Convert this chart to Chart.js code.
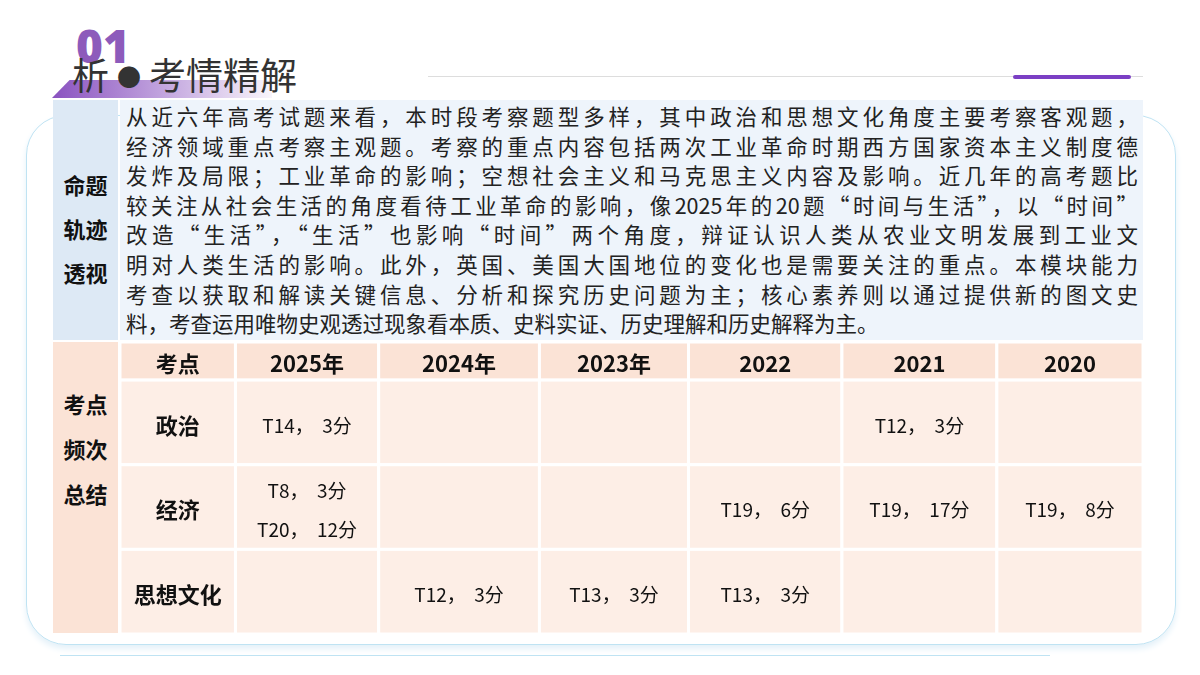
<!DOCTYPE html><html><head><meta charset="utf-8">
<script src="https://cdn.jsdelivr.net/npm/chart.js@4/dist/chart.umd.min.js"></script>
<style>
body{margin:0;width:1200px;height:675px;background:#fff;position:relative;overflow:hidden;font-family:"Noto Sans CJK SC",sans-serif}
.abs{position:absolute}
.para div{text-align:justify;text-align-last:justify;height:29.6px;line-height:29.6px;font-size:21.5px;color:#222;letter-spacing:0}
.lbl{font-weight:bold;font-size:22px;color:#111;text-align:center;line-height:40px}
</style></head><body>
<div class="abs" style="left:26px;top:115px;width:1148px;height:528px;border:1.5px solid #bfe3f3;border-radius:40px;box-shadow:0 4px 6px #e4f1f9"></div>
<div class="abs" style="left:76px;top:14px;font-size:46px;font-weight:900;color:#7a3fb0;font-family:'Noto Sans',sans-serif;opacity:.85">01</div>
<div class="abs" style="left:52px;top:80px;width:220px;height:18px;background:linear-gradient(90deg,#8a52c0,rgba(190,160,220,0.1));clip-path:polygon(8% 0,100% 0,100% 100%,0 100%)"></div>
<div class="abs" style="left:72px;top:50px;font-size:37px;color:#333;line-height:48px">析<span style="font-size:24px;vertical-align:4px;margin:0 8px">●</span>考情精解</div>
<div class="abs" style="left:428px;top:76px;width:715px;height:1px;background:#ddd"></div>
<div class="abs" style="left:1013px;top:75px;width:118px;height:4px;background:#7b3fc4;border-radius:2px"></div>
<div class="abs" style="left:53px;top:100px;width:65px;height:240px;background:#dde9f5"></div>
<div class="abs lbl" style="left:53px;top:162px;width:65px;line-height:44px">命题<br>轨迹<br>透视</div>
<div class="abs" style="left:120px;top:100px;width:1023px;height:240px;background:#eef4fb"></div>
<div class="abs para" style="left:126px;top:101px;width:1012px">
<div>从近六年高考试题来看，本时段考察题型多样，其中政治和思想文化角度主要考察客观题，</div>
<div>经济领域重点考察主观题。考察的重点内容包括两次工业革命时期西方国家资本主义制度德</div>
<div>发炸及局限；工业革命的影响；空想社会主义和马克思主义内容及影响。近几年的高考题比</div>
<div>较关注从社会生活的角度看待工业革命的影响，像2025年的20题“时间与生活”，以“时间”</div>
<div>改造“生活”，“生活”也影响“时间”两个角度，辩证认识人类从农业文明发展到工业文</div>
<div>明对人类生活的影响。此外，英国、美国大国地位的变化也是需要关注的重点。本模块能力</div>
<div>考查以获取和解读关键信息、分析和探究历史问题为主；核心素养则以通过提供新的图文史</div>
<div style="text-align-last:left">料，考查运用唯物史观透过现象看本质、史料实证、历史理解和历史解释为主。</div>
</div>
<div class="abs" style="left:53px;top:342px;width:65px;height:291px;background:#fbe3d6"></div>
<div class="abs lbl" style="left:53px;top:381px;width:65px;line-height:45px">考点<br>频次<br>总结</div>
<div class="abs" style="left:60px;top:655px;width:990px;height:1px;background:#bfe3f3"></div>
<div class="abs" style="left:120px;top:342px;width:1023px;height:292px"><canvas id="c"></canvas></div>
<script>
const columns=["考点","2025年","2024年","2023年","2022","2021","2020"];
const topics=["政治","经济","思想文化"];
const cells=[
 ["T14，3分","","","","T12，3分",""],
 ["T8，3分\nT20，12分","","","T19，6分","T19，17分","T19，8分"],
 ["","T12，3分","T13，3分","T13，3分","",""]
];
// layout (column / row edges on the table's own axes)
const colEdges=[0,0.79,1.77,2.87,3.89,4.94,6,7];
const rowEdges=[0,0.45,1.45,2.45,3.45];
const tablePlugin={id:'tbl',afterDraw(ch){
 const c=ch.ctx,x=ch.scales.x,y=ch.scales.y;
 for(let r=0;r<rowEdges.length-1;r++)for(let k=0;k<columns.length;k++){
  const x0=x.getPixelForValue(colEdges[k]),x1=x.getPixelForValue(colEdges[k+1]);
  const y0=y.getPixelForValue(rowEdges[r]),y1=y.getPixelForValue(rowEdges[r+1]);
  c.fillStyle=r==0?'#fbe3d6':'#fdeee6';c.fillRect(x0,y0,x1-x0,y1-y0);
  c.strokeStyle='#fff';c.lineWidth=3;c.strokeRect(x0,y0,x1-x0,y1-y0);
  let t,bold=false;
  if(r==0){t=columns[k];bold=true}else if(k==0){t=topics[r-1];bold=true}else t=cells[r-1][k-1];
  if(!t)continue;
  c.fillStyle='#111';c.textAlign='center';c.textBaseline='middle';
  c.font=bold?'bold 22px "Noto Sans CJK SC"':'19px "Noto Sans CJK SC"';
  const lines=t.split('\n'),cx=(x0+x1)/2,cy=(y0+y1)/2+3;
  lines.forEach((l,i)=>c.fillText(l.replace('，','，  '),cx,cy+(i-(lines.length-1)/2)*39));
 }
}};
new Chart(document.getElementById('c'),{type:'scatter',data:{datasets:[{data:[]}]},
 options:{responsive:true,maintainAspectRatio:false,animation:false,layout:{padding:0},
 plugins:{legend:{display:false},tooltip:{enabled:false}},
 scales:{x:{type:'linear',min:0,max:7,display:false},y:{type:'linear',min:0,max:3.45,reverse:true,display:false}}},
 plugins:[tablePlugin]});
</script></body></html>
